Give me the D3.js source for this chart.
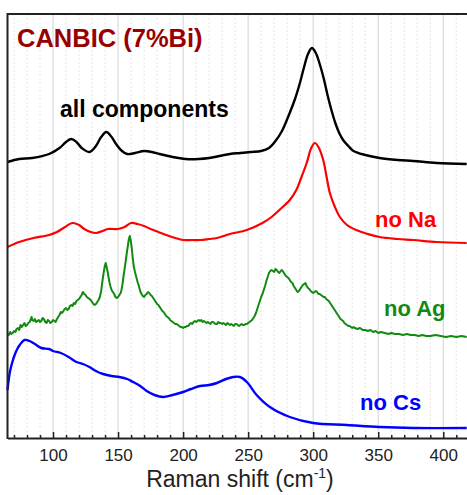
<!DOCTYPE html>
<html>
<head>
<meta charset="utf-8">
<script src="https://cdn.jsdelivr.net/npm/d3@7"></script>
<style>
  html, body { margin: 0; padding: 0; background: #fff; }
  svg { display: block; font-family: "Liberation Sans", Arial, sans-serif; }
</style>
</head>
<body>
<svg id="chart" width="467" height="495"></svg>
<script>
// Raman spectra of CANBIC (7% Bi) and its component-deficient variants.
// Intensities are in arbitrary units, already offset for stacking.

const xTicks = [100, 150, 200, 250, 300, 350, 400];

const allComponents = [
  [65, 276], [74, 279], [84, 280], [97, 284], [105, 290], [110, 296], [114, 299], [118, 296],
  [122, 290], [128, 286], [133, 292], [137, 301], [141, 306], [145, 301], [149, 293],
  [153, 287], [157, 284], [163, 285], [170, 287], [176, 286], [182, 284], [192, 281],
  [202, 279], [212, 279], [220, 280], [228, 282], [236, 284], [244, 285], [252, 286],
  [260, 287], [266, 290], [271, 297], [276, 307], [281, 322], [286, 339], [290, 356],
  [293, 371], [296, 384], [299, 390], [302, 385], [305, 374], [308, 360], [311, 343],
  [314, 328], [317, 315], [320, 305], [323, 298], [327, 292], [331, 287], [340, 283],
  [351, 280], [365, 278], [377, 277], [395, 275], [418, 274]
];

const noNa = [
  [65, 191], [74, 196], [85, 200], [97, 203], [103, 206], [108, 210], [115, 215],
  [120, 213], [124, 209], [129, 206], [133, 205], [138, 207], [142, 209], [150, 209],
  [155, 211], [160, 215], [165, 214], [170, 212], [175, 209], [181, 206], [187, 203],
  [194, 200], [200, 198], [207, 198], [213, 198], [220, 199], [226, 200], [236, 204],
  [249, 208], [261, 215], [268, 221], [274, 228], [282, 238], [287, 248], [291, 261],
  [295, 275], [298.5, 290], [301.3, 295], [304, 291], [307.7, 278], [310.3, 261],
  [312.8, 245], [316.7, 231], [320.5, 221], [326, 213], [333, 208], [342, 204],
  [351, 201], [365, 199], [377, 198], [395, 196], [418, 195]
];

const noAg = [
  [65, 104], [66, 103], [67, 106], [68, 104], [69, 105], [70, 107], [71, 106], [72, 109],
  [73, 110], [74, 108], [75, 113], [76, 111], [77, 113], [78, 115], [79, 112], [80, 113],
  [81, 115], [82, 116], [83, 119], [83.5, 121], [84, 118], [85, 117], [86, 119], [87, 116],
  [88, 117], [89, 118], [90, 116], [91, 117], [92, 120], [93, 119], [94, 116], [95, 115],
  [96, 118], [97, 117], [98, 115], [99, 116], [100, 118], [101, 117], [102, 116], [103, 119],
  [104, 121], [105, 123], [106, 126], [107, 125], [108, 127], [109, 129], [110, 130],
  [111, 128], [112, 129], [113, 132], [114, 133], [115, 132], [116, 135], [117, 134],
  [118, 137], [119, 138], [120, 139], [121, 141], [122, 143], [123, 146], [124, 144],
  [125, 143], [126, 141], [127, 140], [128, 139], [129, 138], [130, 136], [131, 134],
  [132, 133], [133, 134], [134, 136], [135, 138], [136, 141], [137, 147], [137.5, 152],
  [138.3, 160], [139, 166], [139.8, 172], [140.5, 175], [141.2, 171], [142, 166],
  [142.8, 160], [143.5, 155], [144.3, 151], [145, 148], [146, 146], [147, 144], [148, 141],
  [149, 140], [150, 141], [151, 143], [152, 145], [152.6, 148], [153.3, 153], [154, 160],
  [155, 169], [156, 178], [156.8, 186], [157.5, 192], [158.3, 199], [159, 202], [159.8, 197],
  [160.5, 190], [161.2, 181], [162, 172], [163, 166], [164, 161], [165, 156], [166, 152],
  [167, 147], [168, 144], [169, 142], [170, 141], [171, 143], [172, 144], [173, 146],
  [174, 145], [175, 143], [176, 142], [177, 140], [178, 138], [179, 136], [180, 134],
  [181, 133], [182, 131], [183, 129], [184, 127], [185, 126], [186, 124], [187, 122],
  [188, 121], [189, 120], [190, 118], [191, 117], [192, 116], [193, 115], [194, 114],
  [195, 114], [196, 113], [197, 112], [198, 111], [199, 111], [200, 110], [201, 111],
  [202, 111], [203, 112], [204, 112], [205, 114], [206, 115], [207, 114], [208, 116],
  [209, 117], [210, 116], [211, 117], [212, 118], [213, 117], [214, 118], [215, 116],
  [216, 117], [217, 116], [218, 115], [219, 116], [220, 115], [221, 114], [222, 116],
  [223, 116], [224, 115], [225, 114], [226, 114], [227, 116], [228, 115], [229, 115],
  [230, 114], [231, 115], [232, 114], [233, 113], [234, 115], [235, 114], [236, 113],
  [237, 114], [238, 113], [239, 112], [240, 114], [241, 114], [242, 113], [243, 112],
  [244, 113], [245, 114], [246, 113], [247, 113], [248, 114], [249, 114], [250, 115],
  [251, 116], [252, 117], [253, 118], [254, 120], [255, 122], [256, 125], [257, 129],
  [258, 133], [259, 137], [260, 141], [261, 144], [262, 148], [263, 152], [264, 157],
  [265, 161], [266, 165], [267, 167], [268, 168], [269, 167], [270, 166], [271, 169],
  [272, 168], [273, 166], [274, 165], [275, 167], [276, 168], [277, 166], [278, 164],
  [279, 162], [280, 161], [281, 160], [282, 158], [283, 156], [284, 155], [285, 152],
  [286, 150], [287, 148], [288, 146], [289, 147], [290, 149], [291, 151], [292, 153],
  [293, 154], [294, 155], [295, 152], [296, 150], [297, 149], [298, 147], [299, 146],
  [300, 145], [301, 146], [302, 147], [303, 146], [304, 144], [305, 144], [306, 143],
  [307, 142], [308, 141], [309, 141], [310, 139], [311, 138], [312, 137], [313, 135],
  [314, 133], [315, 131], [316, 129], [317, 127], [318, 125], [319, 123], [320, 121],
  [321, 119], [322, 118], [323, 117], [324, 115], [325, 114], [326, 113], [327, 112],
  [328, 112], [329, 111], [330, 110], [331, 111], [332, 110], [334, 109], [336, 110],
  [338, 108], [340, 108], [342, 107], [344, 108], [346, 106], [348, 107], [350, 105],
  [352, 106], [355, 105], [358, 104], [360, 105], [363, 104], [366, 104], [369, 103],
  [372, 104], [375, 103], [378, 103], [381, 102], [384, 103], [387, 102], [390, 102],
  [394, 103], [398, 102], [402, 101], [406, 102], [410, 101], [414, 102], [418, 101]
];

const noCs = [
  [65, 48], [66.7, 65], [68.5, 75], [70.5, 83], [72.5, 89], [74.4, 93], [78, 98], [82, 97],
  [86, 94], [91, 90], [97, 89], [100, 87], [106, 85], [112, 81], [118, 76], [123, 74],
  [128, 71], [133, 67], [138.5, 64], [145, 62], [151, 61], [157, 59], [161.5, 56], [167, 52],
  [172, 47], [178, 43], [184.6, 41], [192, 43], [200, 46], [206, 49], [213, 52], [220, 53],
  [226, 55], [233, 59], [238.5, 61], [243.6, 61], [249, 56], [256.5, 43], [266.7, 31],
  [282, 21], [300, 15], [326, 13], [351, 11], [377, 10], [418, 10]
];

const series = [
  { name: "all components", data: allComponents, color: "#000000", width: 2.4, label: [60, 117], size: 23 },
  { name: "no Na", data: noNa, color: "#ff0000", width: 2.2, label: [375, 227], size: 22 },
  { name: "no Ag", data: noAg, color: "#118a11", width: 2, label: [384, 316], size: 22 },
  { name: "no Cs", data: noCs, color: "#0000ff", width: 2.4, label: [360, 410], size: 22 }
];

const svg = d3.select("#chart");
const plotLeft = 7.5, plotRight = 466.7, plotTop = 14, plotBottom = 438;

const x = d3.scaleLinear().domain([65, 418]).range([plotLeft, plotRight]);
const y = d3.scaleLinear().domain([0, 424]).range([plotBottom, plotTop]);

// minor (every 10) dotted grid and major (every 50) solid grid
const minorVals = d3.range(70, 419, 10).filter(v => v % 50 !== 0);
svg.append("g").selectAll("line").data(minorVals).join("line")
  .attr("x1", d => x(d)).attr("x2", d => x(d))
  .attr("y1", plotTop).attr("y2", plotBottom)
  .attr("stroke", "#e6e6e6").attr("stroke-width", 1)
  .attr("stroke-dasharray", "2,2");
svg.append("g").selectAll("line").data(xTicks).join("line")
  .attr("x1", d => x(d)).attr("x2", d => x(d))
  .attr("y1", plotTop).attr("y2", plotBottom)
  .attr("stroke", "#dcdcdc").attr("stroke-width", 1.3);

// spectra
const smooth = d3.line().x(d => x(d[0])).y(d => y(d[1])).curve(d3.curveCatmullRom.alpha(0.5));
const raw = d3.line().x(d => x(d[0])).y(d => y(d[1]));
series.forEach(s => {
  svg.append("path")
    .datum(s.data)
    .attr("d", s.name === "no Ag" ? raw(s.data) : smooth(s.data))
    .attr("fill", "none")
    .attr("stroke", s.color)
    .attr("stroke-width", s.width)
    .attr("stroke-linejoin", "round");
  svg.append("text")
    .attr("x", s.label[0]).attr("y", s.label[1])
    .attr("fill", s.color)
    .attr("font-size", s.size).attr("font-weight", "bold")
    .text(s.name);
});

// frame: top border and left axis line
svg.append("line").attr("x1", plotLeft).attr("x2", 467).attr("y1", plotTop).attr("y2", plotTop)
  .attr("stroke", "#222").attr("stroke-width", 2);
svg.append("line").attr("x1", plotLeft).attr("x2", plotLeft).attr("y1", plotTop - 1).attr("y2", plotBottom + 1)
  .attr("stroke", "#222").attr("stroke-width", 2);

// bottom axis: inward minor and major ticks
const minorAxis = d3.axisBottom(x).tickValues(minorVals).tickSize(-3).tickFormat("");
svg.append("g").attr("transform", `translate(0,${plotBottom})`).call(minorAxis)
  .call(g => g.select(".domain").remove())
  .call(g => g.selectAll("line").attr("stroke", "#222").attr("stroke-width", 1.5));

const majorAxis = d3.axisBottom(x).tickValues(xTicks).tickSizeInner(-6).tickSizeOuter(0).tickPadding(11);
svg.append("g").attr("transform", `translate(0,${plotBottom})`).call(majorAxis)
  .call(g => g.select(".domain").attr("stroke", "#222").attr("stroke-width", 2))
  .call(g => g.selectAll(".tick line").attr("stroke", "#222").attr("stroke-width", 1.5))
  .call(g => g.selectAll("text").attr("font-size", 17).attr("fill", "#222")
    .attr("font-family", "'Liberation Sans', Arial, sans-serif"));

// axis title with superscript
const xt = svg.append("text")
  .attr("x", 240).attr("y", 487)
  .attr("text-anchor", "middle")
  .attr("font-size", 23).attr("fill", "#222");
xt.append("tspan").text("Raman shift (cm");
xt.append("tspan").attr("font-size", 14).attr("dy", -9).text("-1");
xt.append("tspan").attr("dy", 9).text(")");

// chart title
svg.append("text")
  .attr("x", 17).attr("y", 47)
  .attr("fill", "#980000")
  .attr("font-size", 25.5).attr("font-weight", "bold")
  .text("CANBIC (7%Bi)");
</script>
</body>
</html>
